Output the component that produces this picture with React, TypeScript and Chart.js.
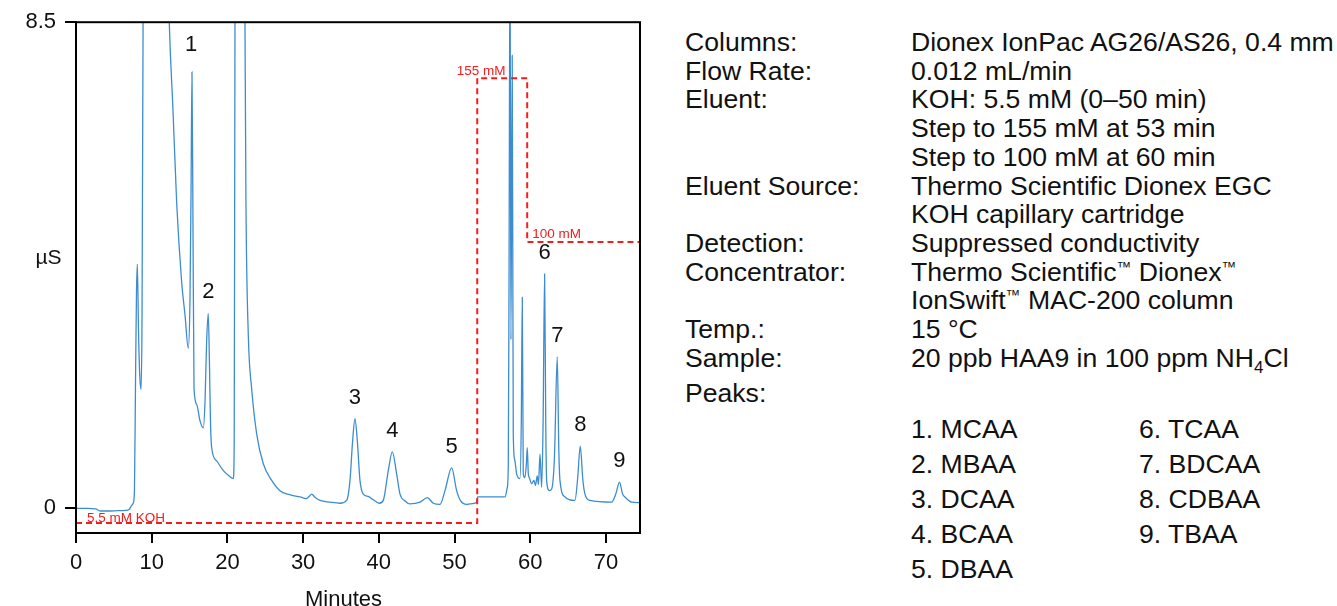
import React, { useEffect, useRef } from 'react';
import { Chart, registerables } from 'chart.js';

Chart.register(...registerables);

// ---------- data ----------
const traceTimes = [
  0, 1.5, 2.6, 3.2, 4.5, 5.5, 6.5, 7.0, 7.3, 7.55, 7.72, 7.86, 7.99, 8.1, 8.26, 8.43, 8.59, 8.72, 8.86, 9.2,
  10.5, 11.6, 12.32, 12.8, 13.3, 13.96, 14.4, 14.83, 15.05, 15.2, 15.32, 15.45, 15.59, 15.94, 16.38, 16.82,
  17.05, 17.25, 17.47, 17.62, 17.75, 17.92, 18.58, 19.46, 20.2, 20.78, 20.9, 21.0, 21.3, 22.0, 22.32, 22.45,
  22.76, 23.2, 23.87, 24.74, 25.85, 26.94, 28.2, 29.6, 30.38, 30.8, 31.13, 31.6, 32.23, 33.55, 34.87, 35.75,
  36.19, 36.54, 36.85, 37.16, 37.51, 37.95, 38.61, 39.27, 40.06, 40.59, 41.25, 41.78, 42.36, 42.8, 43.46,
  44.12, 45.44, 46.41, 47.2, 48.08, 48.74, 49.62, 50.28, 50.81, 51.6, 52.04, 52.9, 53.05, 56.66, 56.95,
  57.1, 57.2, 57.33, 57.45, 57.62, 57.76, 57.95, 58.21, 58.64, 58.82, 58.95, 59.08, 59.3, 59.5, 59.61, 59.75,
  59.87, 60.19, 60.49, 60.69, 60.93, 61.09, 61.29, 61.51, 61.7, 61.9, 62.05, 62.17, 62.52, 62.83, 63.2,
  63.57, 63.78, 63.93, 64.59, 65.91, 66.25, 66.61, 66.95, 67.23, 67.89, 70.76, 71.3, 71.79, 72.2, 72.51,
  73.4, 74.49,
];
const traceValues = [
  0.0, 0.0, -0.01, -0.045, -0.045, -0.04, -0.035, -0.02, 0.04, 0.09, 0.3, 2.2, 3.78, 4.27, 3.09, 2.3, 2.08, 3.3, 8.5, 13,
  16, 13, 8.5, 7.0, 5.34, 3.95, 3.38, 2.8, 3.6, 5.6, 7.63, 5.0, 2.1, 1.82, 1.53, 1.41,
  1.9, 2.9, 3.41, 2.6, 1.6, 1.06, 0.83, 0.66, 0.57, 0.52, 1.2, 8.5, 15, 15, 8.5, 5.34,
  3.03, 2.1, 1.3, 0.78, 0.49, 0.31, 0.24, 0.2, 0.17, 0.21, 0.25, 0.19, 0.14, 0.11, 0.09, 0.14,
  0.49, 1.18, 1.57, 1.18, 0.49, 0.25, 0.21, 0.15, 0.09, 0.14, 0.66, 0.99, 0.6, 0.25, 0.13,
  0.08, 0.11, 0.19, 0.09, 0.07, 0.31, 0.71, 0.31, 0.13, 0.07, 0.08, 0.1, 0.2, 0.2, 0.35,
  0.72, 4.0, 10.0, 2.95, 7.92, 1.3, 0.85, 0.6, 0.52, 1.5, 3.69, 0.6, 0.54, 0.8, 1.06, 0.6,
  0.54, 0.43, 0.49, 0.4, 0.57, 0.42, 0.95, 0.37, 1.5, 4.1, 1.5, 0.49, 0.31, 0.34, 0.9,
  2.65, 1.0, 0.49, 0.2, 0.14, 0.5, 1.09, 0.5, 0.25, 0.14, 0.11, 0.25, 0.46, 0.25, 0.2,
  0.11, 0.1,
];

const eluentTimes = [0, 53, 53, 59.6, 59.6, 74.5];
const eluentConc = [5.5, 5.5, 155, 155, 100, 100];
const eluentLabels = ['5.5 mM KOH', '155 mM', '100 mM'];

const peakNumbers = ['1', '2', '3', '4', '5', '6', '7', '8', '9'];
const peakTimes = [15.2, 17.47, 36.85, 41.78, 49.62, 61.9, 63.57, 66.61, 71.79];
const peakHeights = [7.63, 3.41, 1.57, 0.99, 0.71, 4.1, 2.65, 1.09, 0.46];

const xTickValues = [0, 10, 20, 30, 40, 50, 60, 70];
const yTickValues = [0, 8.5];
const xAxisTitle = 'Minutes';
const yAxisTitle = 'µS';

const setupLabels = [
  'Columns:', 'Flow Rate:', 'Eluent:', '', '', 'Eluent Source:', '', 'Detection:', 'Concentrator:', '', 'Temp.:', 'Sample:',
];
const setupValues = [
  'Dionex IonPac AG26/AS26, 0.4 mm',
  '0.012 mL/min',
  'KOH: 5.5 mM (0–50 min)',
  'Step to 155 mM at 53 min',
  'Step to 100 mM at 60 min',
  'Thermo Scientific Dionex EGC',
  'KOH capillary cartridge',
  'Suppressed conductivity',
  'Thermo Scientific™ Dionex™',
  'IonSwift™ MAC-200 column',
  '15 °C',
  'SAMPLE',
];
const peakNamesCol1 = ['1. MCAA', '2. MBAA', '3. DCAA', '4. BCAA', '5. DBAA'];
const peakNamesCol2 = ['6. TCAA', '7. BDCAA', '8. CDBAA', '9. TBAA'];

const FONT = '"Liberation Sans", Arial, sans-serif';

const overlayPlugin = {
  id: 'overlay',
  afterDatasetsDraw(chart: any) {
    const { ctx, chartArea: a, scales } = chart;
    const xs = scales.x;
    const ys = scales.y;
    const yk = scales.yKOH;
    ctx.save();
    // frame
    ctx.strokeStyle = '#000';
    ctx.lineWidth = 2;
    ctx.strokeRect(a.left, a.top, a.right - a.left, a.bottom - a.top);

    // peak numbers
    ctx.fillStyle = '#111';
    ctx.font = `22px ${FONT}`;
    ctx.textAlign = 'center';
    ctx.textBaseline = 'middle';
    peakNumbers.forEach((n, i) => {
      const off = i === 0 ? 27 : 21;
      ctx.fillText(n, xs.getPixelForValue(peakTimes[i]), ys.getPixelForValue(peakHeights[i]) - off);
    });

    // eluent labels
    ctx.fillStyle = '#f21d1d';
    ctx.font = `13.5px ${FONT}`;
    ctx.textAlign = 'left';
    ctx.textBaseline = 'alphabetic';
    ctx.fillText(eluentLabels[0], xs.getPixelForValue(eluentTimes[0]) + 11, yk.getPixelForValue(eluentConc[0]) - 1.5);
    ctx.fillText(eluentLabels[1], xs.getPixelForValue(eluentTimes[2]) - 20.5, yk.getPixelForValue(eluentConc[2]) - 3);
    ctx.fillText(eluentLabels[2], xs.getPixelForValue(eluentTimes[4]) + 5, yk.getPixelForValue(eluentConc[4]) - 4);

    // axis titles
    ctx.fillStyle = '#111';
    ctx.font = `21px ${FONT}`;
    ctx.textAlign = 'center';
    ctx.textBaseline = 'middle';
    ctx.fillText(yAxisTitle, a.left - 27.5, 258);
    ctx.font = `22px ${FONT}`;
    ctx.textBaseline = 'alphabetic';
    ctx.fillText(xAxisTitle, 343.5, 606);
    ctx.restore();
  },
};

function ChromChart() {
  const ref = useRef<HTMLCanvasElement | null>(null);
  useEffect(() => {
    if (!ref.current) return;
    const chart = new Chart(ref.current, {
      type: 'line',
      data: {
        datasets: [
          {
            label: 'KOH',
            data: eluentTimes.map((t, i) => ({ x: t, y: eluentConc[i] })),
            yAxisID: 'yKOH',
            borderColor: '#f21d1d',
            borderWidth: 2,
            borderDash: [6, 4],
            pointRadius: 0,
            tension: 0,
            fill: false,
          },
          {
            label: 'Conductivity',
            data: traceTimes.map((t, i) => ({ x: t, y: traceValues[i] })),
            yAxisID: 'y',
            borderColor: '#3c8dd0',
            borderWidth: 1.3,
            pointRadius: 0,
            cubicInterpolationMode: 'monotone',
            fill: false,
          },
        ],
      },
      options: {
        responsive: false,
        animation: false,
        devicePixelRatio: 1,
        events: [],
        layout: { padding: { top: 18, right: 20, left: 0, bottom: 0 } },
        plugins: { legend: { display: false }, tooltip: { enabled: false }, title: { display: false } },
        scales: {
          x: {
            type: 'linear',
            min: 0,
            max: 74.5,
            afterBuildTicks: (s: any) => {
              s.ticks = xTickValues.map((v) => ({ value: v }));
            },
            afterFit: (s: any) => {
              s.height = 73;
            },
            ticks: {
              callback: (v: any) => String(v),
              color: '#111',
              font: { size: 22, family: FONT },
              padding: 7,
              maxRotation: 0,
              autoSkip: false,
            },
            grid: { drawOnChartArea: false, drawTicks: true, tickLength: 10, color: '#000', lineWidth: 2 },
            border: { display: true, color: '#000', width: 2 },
          },
          y: {
            type: 'linear',
            min: -0.43,
            max: 8.5,
            afterBuildTicks: (s: any) => {
              s.ticks = yTickValues.map((v) => ({ value: v }));
            },
            afterFit: (s: any) => {
              s.width = 76;
            },
            ticks: {
              callback: (v: any) => String(v),
              color: '#111',
              font: { size: 22, family: FONT },
              padding: 9,
              autoSkip: false,
            },
            grid: { drawOnChartArea: false, drawTicks: true, tickLength: 11, color: '#000', lineWidth: 2 },
            border: { display: true, color: '#000', width: 2 },
          },
          yKOH: {
            type: 'linear',
            display: false,
            min: 2.167,
            max: 173.83,
          },
        },
      } as any,
      plugins: [overlayPlugin],
    });
    return () => chart.destroy();
  }, []);
  return <canvas ref={ref} width={660} height={606} style={{ position: 'absolute', left: 0, top: 0 }} />;
}

const textStyle: React.CSSProperties = {
  position: 'absolute',
  fontFamily: FONT,
  fontSize: 26.6,
  lineHeight: '26px',
  height: 26,
  whiteSpace: 'nowrap',
  color: '#111',
};

function withTM(v: string) {
  const parts = v.split('™');
  const out: React.ReactNode[] = [];
  parts.forEach((p, i) => {
    out.push(p);
    if (i < parts.length - 1) {
      out.push(
        <span key={i} style={{ fontSize: 15, position: 'relative', top: -9 }}>
          ™
        </span>,
      );
    }
  });
  return out;
}

function renderValue(v: string) {
  if (v === 'SAMPLE') {
    return (
      <>
        20 ppb HAA9 in 100 ppm NH
        <span style={{ fontSize: 17, position: 'relative', top: 6 }}>4</span>Cl
      </>
    );
  }
  return withTM(v);
}

export default function App() {
  return (
    <div
      style={{
        position: 'fixed',
        left: 0,
        top: 0,
        width: 1337,
        height: 606,
        background: '#fff',
        overflow: 'hidden',
      }}
    >
      <ChromChart />
      {setupLabels.map((l, i) =>
        l ? (
          <div key={'l' + i} style={{ ...textStyle, left: 685, top: 33 + 28.7 * i - 4 }}>
            {l}
          </div>
        ) : null,
      )}
      {setupValues.map((v, i) => (
        <div key={'v' + i} style={{ ...textStyle, left: 911, top: 33 + 28.7 * i - 4 }}>
          {renderValue(v)}
        </div>
      ))}
      <div style={{ ...textStyle, left: 685, top: 384 - 4 }}>Peaks:</div>
      {peakNamesCol1.map((p, i) => (
        <div key={'p1' + i} style={{ ...textStyle, left: 911, top: 421 + 35 * i - 5 }}>
          {p}
        </div>
      ))}
      {peakNamesCol2.map((p, i) => (
        <div key={'p2' + i} style={{ ...textStyle, left: 1139, top: 421 + 35 * i - 5 }}>
          {p}
        </div>
      ))}
    </div>
  );
}
